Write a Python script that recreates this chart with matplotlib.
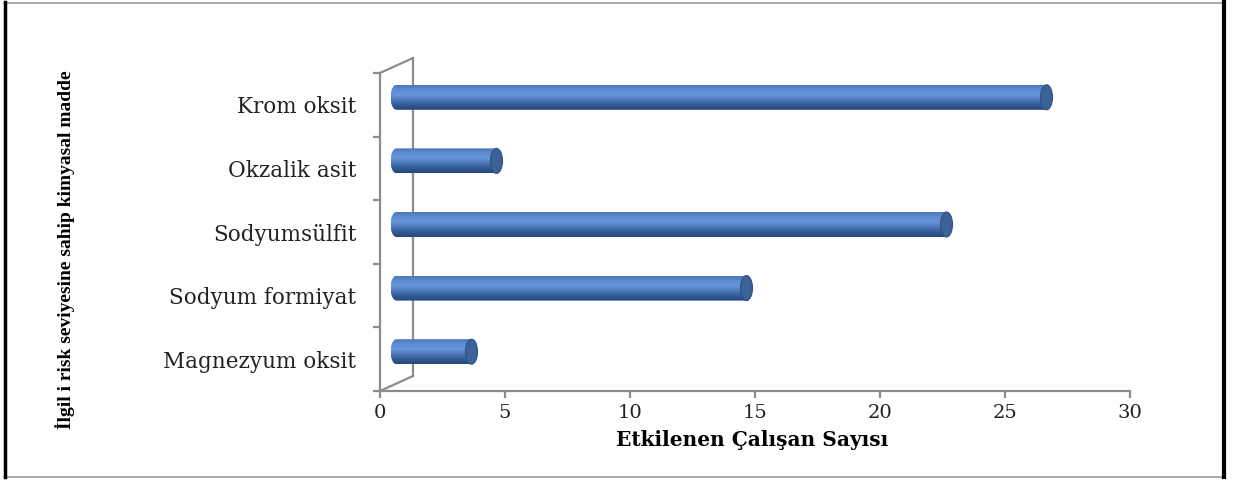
import numpy as np
import matplotlib.pyplot as plt
from matplotlib.patches import Ellipse, Polygon
from matplotlib.lines import Line2D
from matplotlib.colors import to_rgb

# chemicals (bottom to top) and number of affected workers
kimyasallar = ["Magnezyum oksit", "Sodyum formiyat", "Sodyumsülfit", "Okzalik asit", "Krom oksit"]
calisan = [3, 14, 22, 4, 26]
x_ticks = [0, 5, 10, 15, 20, 25, 30]

W, H = 1237, 482
fig = plt.figure(figsize=(W / 100, H / 100), dpi=100)
ax = fig.add_axes([380 / W, (H - 391) / H, 750 / W, 318 / H])

grey = "#8c8c8c"
dx, dy = 0.66, 0.118          # half of the 3d depth, in data units
cap_w, bar_h = 0.48, 0.393    # end ellipse width / cylinder thickness

# vertical shading of the cylinder body
stops = [(0.0, "#25477b"), (0.2, "#345b96"), (0.6, "#6594da"), (0.82, "#5d8cd0"), (1.0, "#4a77b6")]
pos = np.linspace(0, 1, 64)
grad = np.array([[np.interp(p, [s[0] for s in stops], [to_rgb(s[1])[i] for s in stops]) for i in range(3)]
                 for p in pos])[:, None, :]

for i, v in enumerate(calisan):
    yc = i + dy
    x0, x1 = dx, v + dx
    t = np.linspace(np.pi / 2, 3 * np.pi / 2, 40)
    pts = np.column_stack([x0 + cap_w / 2 * np.cos(t), yc + bar_h / 2 * np.sin(t)])
    pts = np.vstack([pts, [[x1, yc - bar_h / 2], [x1, yc + bar_h / 2]]])
    clip = Polygon(pts, closed=True, transform=ax.transData, facecolor="none", edgecolor="none")
    ax.add_patch(clip)
    im = ax.imshow(grad, extent=[x0 - cap_w / 2, x1, yc - bar_h / 2, yc + bar_h / 2],
                   origin="lower", aspect="auto", interpolation="bilinear", zorder=3)
    im.set_clip_path(clip)
    ax.add_patch(Ellipse((x1, yc), cap_w, bar_h, facecolor="#3b6397", edgecolor="#2e5282",
                         lw=0.8, zorder=4))

# 3d frame: back wall and the diagonals joining it to the front axis
ax.plot([2 * dx, 2 * dx], [-0.5 + 2 * dy, 4.5 + 2 * dy], color=grey, lw=1.6, clip_on=False, zorder=1)
ax.plot([0, 2 * dx], [4.5, 4.5 + 2 * dy], color=grey, lw=1.6, clip_on=False, zorder=1)
ax.plot([0, 2 * dx], [-0.5, -0.5 + 2 * dy], color=grey, lw=1.6, clip_on=False, zorder=1)

ax.set_xlim(0, 30)
ax.set_ylim(-0.5, 4.5)
for s in ["top", "right"]:
    ax.spines[s].set_visible(False)
for s in ["left", "bottom"]:
    ax.spines[s].set_color(grey)
    ax.spines[s].set_linewidth(1.6)

ax.set_xticks(x_ticks)
ax.set_xticklabels([str(x) for x in x_ticks], family="DejaVu Serif", fontsize=14, color="#222222")
ax.set_yticks(range(len(kimyasallar)))
ax.set_yticklabels(kimyasallar, family="DejaVu Serif", fontsize=15.5, color="#222222")
ax.set_yticks(np.arange(-0.5, 5, 1), minor=True)
ax.tick_params(axis="y", which="major", length=0, pad=17)
ax.tick_params(axis="y", which="minor", length=5, color=grey, width=1.6)
ax.tick_params(axis="x", length=5, color=grey, width=1.6, pad=4)

fig.text(752 / W, 1 - 440 / H, "Etkilenen Çalışan Sayısı", family="DejaVu Serif",
         fontweight="bold", fontsize=14.5, ha="center", va="center")
fig.text(65 / W, 1 - 250 / H, "İlgil i risk seviyesine sahip kimyasal madde", family="Liberation Serif",
         fontweight="bold", fontsize=14, rotation=90, ha="center", va="center")

# outer chart border
fig.add_artist(Line2D([4 / W, 1224 / W], [1 - 2.5 / H, 1 - 2.5 / H], color="#9a9a9a", lw=1.2))
fig.add_artist(Line2D([4 / W, 1224 / W], [1 - 476.5 / H, 1 - 476.5 / H], color="#9a9a9a", lw=1.2))
fig.add_artist(Line2D([5 / W, 5 / W], [1 - 2 / H, 1 - 477 / H], color="black", lw=2.5))
fig.add_artist(Line2D([1224 / W, 1224 / W], [1 - 2 / H, 1 - 477 / H], color="black", lw=3))

fig.savefig("out.png", dpi=100)
